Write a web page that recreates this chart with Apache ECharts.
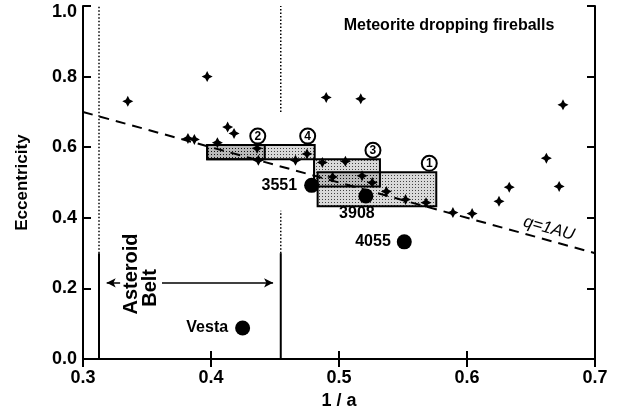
<!DOCTYPE html>
<html><head><meta charset="utf-8">
<script src="https://cdn.jsdelivr.net/npm/echarts@6/dist/echarts.min.js"></script>
<style>html,body{margin:0;padding:0;background:#fff}#c{width:619px;height:415px}</style>
</head><body><div id="c"></div>
<script>
const FONT = '"Liberation Sans", Arial, Helvetica, sans-serif';

// ---- data ----
const fireballX = [0.335, 0.397, 0.382, 0.387, 0.413, 0.418, 0.405, 0.436, 0.437, 0.466, 0.475, 0.490, 0.517, 0.675, 0.662, 0.633, 0.672, 0.625, 0.589, 0.604, 0.568, 0.552, 0.537, 0.526, 0.487, 0.505, 0.495, 0.518];
const fireballE = [0.730, 0.800, 0.625, 0.622, 0.657, 0.639, 0.613, 0.597, 0.563, 0.563, 0.581, 0.741, 0.737, 0.720, 0.569, 0.487, 0.489, 0.447, 0.415, 0.412, 0.443, 0.452, 0.475, 0.500, 0.557, 0.560, 0.516, 0.519];

const asteroidNames = ['3551', '3908', '4055', 'Vesta'];
const asteroidX = [0.4786, 0.521, 0.551, 0.4247];
const asteroidE = [0.492, 0.462, 0.332, 0.088];

const boxIds = ['1', '2', '3', '4'];
const boxX0 = [0.4833, 0.397, 0.4805, 0.397];
const boxX1 = [0.576, 0.442, 0.532, 0.481];
const boxE0 = [0.433, 0.566, 0.489, 0.566];
const boxE1 = [0.529, 0.606, 0.566, 0.606];

const qLineX = [0.3, 0.7];
const qLineE = [0.7, 0.3];

const beltX = [0.3125, 0.4545];
const solidE = [0.0, 0.30];
const dotInnerE = [0.30, 1.0];
const dotOuterLowE = [0.30, 0.42];
const dotOuterHighE = [0.70, 1.0];

const arrowE = 0.216;
const arrowLeftX = [0.329, 0.3185];
const arrowRightX = [0.3617, 0.4485];

const annotTexts = ['q=1AU', 'Asteroid', 'Belt'];
const annotX = [0.664, 0.3379, 0.3531];
const annotE = [0.370, 0.241, 0.2017];

const xTickLabels = ['0.3', '0.4', '0.5', '0.6', '0.7'];
const yTickLabels = ['0.0', '0.2', '0.4', '0.6', '0.8', '1.0'];
const titleText = 'Meteorite dropping fireballs';

// ---- styles ----
const annotStyle = {
  'q=1AU': { fontStyle: 'italic', fontWeight: 'normal', fontSize: 17, rotate: -15.6 },
  'Asteroid': { fontWeight: 'bold', fontSize: 20, rotate: 90 },
  'Belt': { fontWeight: 'bold', fontSize: 20, rotate: 90 }
};
const asteroidLabel = {
  '3551': { position: 'left', distance: 7 },
  '3908': { position: 'bottom', distance: 2, offset: [-9, 0] },
  '4055': { position: 'left', distance: 6 },
  'Vesta': { position: 'left', distance: 7 }
};

function makePattern() {
  const c = document.createElement('canvas');
  c.width = 3; c.height = 3;
  const ctx = c.getContext('2d');
  ctx.fillStyle = 'rgba(0,0,0,0.15)';
  ctx.fillRect(0, 0, 3, 3);
  ctx.fillStyle = 'rgba(0,0,0,0.7)';
  ctx.fillRect(1, 1, 1, 1);
  return c;
}
const pat = makePattern();

const starPath = 'path://M0,-10 L3.4,-3.4 L10,0 L3.4,3.4 L0,10 L-3.4,3.4 L-10,0 L-3.4,-3.4 Z';

function seg(x, es) { return [[x, es[0]], [x, es[1]]]; }
function lineSeries(data, type, width) {
  return { type: 'line', data, symbol: 'none', silent: true, z: 2,
    lineStyle: { color: '#000', width, type }, animation: false };
}

const chart = echarts.init(document.getElementById('c'), null, { renderer: 'canvas' });

const axisCommon = {
  type: 'value',
  axisLine: { show: true, lineStyle: { color: '#000', width: 2 } },
  axisTick: { show: true, inside: true, length: 8, lineStyle: { color: '#000', width: 2 } },
  splitLine: { show: false }
};
const tickFont = { color: '#000', fontSize: 18, fontWeight: 'bold', fontFamily: FONT };

const option = {
  animation: false,
  backgroundColor: '#fff',
  grid: { left: 83, right: 24, top: 6, bottom: 52 },
  xAxis: [
    Object.assign({}, axisCommon, {
      min: 0.3, max: 0.7, interval: 0.1, position: 'bottom',
      axisLabel: Object.assign({ margin: 10,
        formatter: (v) => xTickLabels[Math.round((v - 0.3) * 10)] }, tickFont),
      name: '1 / a', nameLocation: 'middle', nameGap: 29,
      nameTextStyle: { color: '#000', fontSize: 18, fontWeight: 'bold', fontFamily: FONT }
    }),
    Object.assign({}, axisCommon, {
      min: 0.3, max: 0.7, interval: 0.1, position: 'top', axisLabel: { show: false }
    })
  ],
  yAxis: [
    Object.assign({}, axisCommon, {
      min: 0, max: 1, interval: 0.2, position: 'left',
      axisLabel: Object.assign({ margin: 6,
        formatter: (v) => {
          const k = Math.round(v * 5);
          return k === 5 ? '{top|' + yTickLabels[k] + '}' : yTickLabels[k];
        },
        rich: { top: Object.assign({ padding: [12, 0, 0, 0] }, tickFont) } }, tickFont),
      name: 'Eccentricity', nameLocation: 'middle', nameGap: 52,
      nameTextStyle: { color: '#000', fontSize: 17, fontWeight: 'bold', fontFamily: FONT }
    }),
    Object.assign({}, axisCommon, {
      min: 0, max: 1, interval: 0.2, position: 'right', axisLabel: { show: false }
    })
  ],
  graphic: [{
    type: 'text', x: 449, y: 26,
    style: { text: titleText, font: 'bold 16px ' + FONT, fill: '#000', align: 'center', verticalAlign: 'middle' }
  }],
  series: [
    // boxes
    {
      type: 'custom', z: 1, silent: true,
      data: boxIds.map((id, i) => [boxX0[i], boxX1[i], boxE0[i], boxE1[i], id]),
      encode: { x: [0, 1], y: [2, 3] },
      renderItem(params, api) {
        const tl = api.coord([api.value(0), api.value(3)]);
        const br = api.coord([api.value(1), api.value(2)]);
        const id = boxIds[params.dataIndex];
        return { type: 'group', children: [
          { type: 'rect', shape: { x: tl[0], y: tl[1], width: br[0] - tl[0], height: br[1] - tl[1] },
            style: { fill: { image: pat, repeat: 'repeat' }, stroke: '#000', lineWidth: 2 } },
          { type: 'circle', shape: { cx: br[0] - 7, cy: tl[1] - 9, r: 7.5 },
            style: { fill: '#fff', stroke: '#000', lineWidth: 2 } },
          { type: 'text', x: br[0] - 7, y: tl[1] - 8.5,
            style: { text: id, font: 'bold 12px ' + FONT, fill: '#000', align: 'center', verticalAlign: 'middle' } }
        ] };
      }
    },
    // q = 1 AU
    { type: 'line', data: qLineX.map((x, i) => [x, qLineE[i]]), symbol: 'none', silent: true, z: 2,
      lineStyle: { color: '#000', width: 2, type: [10, 7] } },
    // belt boundaries
    lineSeries(seg(beltX[0], solidE), 'solid', 2),
    lineSeries(seg(beltX[1], solidE), 'solid', 2),
    lineSeries(seg(beltX[0], dotInnerE), [1.5, 2], 1.5),
    lineSeries(seg(beltX[1], dotOuterLowE), [1.5, 2], 1.5),
    lineSeries(seg(beltX[1], dotOuterHighE), [1.5, 2], 1.5),
    // arrows
    { type: 'line', data: [], silent: true,
      markLine: { silent: true, symbol: ['none', 'arrow'], symbolSize: [7, 9], animation: false,
        label: { show: false },
        lineStyle: { color: '#000', width: 1.5, type: 'solid' },
        data: [
          [{ coord: [arrowLeftX[0], arrowE] }, { coord: [arrowLeftX[1], arrowE] }],
          [{ coord: [arrowRightX[0], arrowE] }, { coord: [arrowRightX[1], arrowE] }]
        ] } },
    // fireballs
    { type: 'scatter', z: 4, symbol: starPath, symbolSize: 11, silent: true,
      itemStyle: { color: '#000', opacity: 1 },
      data: fireballX.map((x, i) => [x, fireballE[i]]) },
    // asteroids
    { type: 'scatter', z: 5, symbol: 'circle', symbolSize: 15, silent: true,
      itemStyle: { color: '#000', opacity: 1 },
      data: asteroidNames.map((n, i) => ({
        value: [asteroidX[i], asteroidE[i]], name: n,
        label: Object.assign({ show: true, formatter: n, color: '#000', fontSize: 16, fontWeight: 'bold', fontFamily: FONT }, asteroidLabel[n])
      })) },
    // annotations
    { type: 'scatter', z: 6, symbolSize: 0, silent: true,
      itemStyle: { opacity: 1 },
      data: annotTexts.map((t, i) => ({
        value: [annotX[i], annotE[i]],
        label: Object.assign({ show: true, position: 'inside', formatter: t, color: '#000', fontFamily: FONT }, annotStyle[t])
      })) }
  ]
};
chart.setOption(option);
</script>
</body></html>
